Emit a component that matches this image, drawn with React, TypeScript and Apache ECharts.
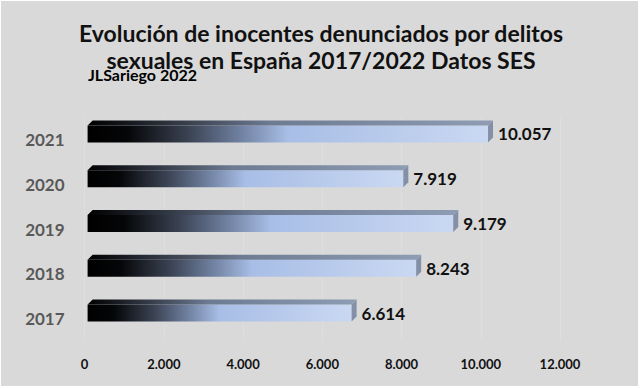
import React, { useEffect, useRef } from "react";
import * as echarts from "echarts";

const categories = ["2017", "2018", "2019", "2020", "2021"];
const values = [6614, 8243, 9179, 7919, 10057];
const xTicks = [0, 2000, 4000, 6000, 8000, 10000, 12000];
const titleLines = ["Evolución de inocentes denunciados por delitos", "sexuales en España 2017/2022 Datos SES"];
const author = "JLSariego 2022";

const fmtDot = (v: number) => String(v).replace(/\B(?=(\d{3})+(?!\d))/g, ".");

export default function App() {
  const ref = useRef<HTMLDivElement>(null);
  useEffect(() => {
    if (!ref.current) return;
    const chart = echarts.init(ref.current, undefined, { renderer: "svg" });
    const D = 5;
    const frontGrad = () =>
      new echarts.graphic.LinearGradient(0, 0, 1, 0, [
        { offset: 0, color: "#000000" },
        { offset: 0.1, color: "#050608" },
        { offset: 0.25, color: "#3a4252" },
        { offset: 0.38, color: "#6f80a0" },
        { offset: 0.5, color: "#a8bee6" },
        { offset: 1, color: "#cad8f2" },
      ]);
    const topGrad = () =>
      new echarts.graphic.LinearGradient(0, 0, 1, 0, [
        { offset: 0, color: "#000000" },
        { offset: 0.12, color: "#1a1d24" },
        { offset: 0.45, color: "#6c7a92" },
        { offset: 1, color: "#8e9cb4" },
      ]);
    chart.setOption({
      animation: false,
      backgroundColor: "#ffffff",
      graphic: [
        { type: "rect", z: -10, shape: { x: 1, y: 1, width: 637, height: 385 }, style: { fill: "#d9d9d9" } },
        {
          type: "text",
          left: 88,
          top: 66,
          z: 10,
          style: { text: author, font: "bold 16px Lato", fill: "#000000" },
        },
      ],
      title: {
        text: titleLines.join("\n"),
        left: "center",
        top: 14,
        textStyle: { fontFamily: "Lato", fontWeight: "bold", fontSize: 23, lineHeight: 27, color: "#111111" },
      },
      grid: { left: 84.6, right: 82, top: 117, bottom: 48 },
      xAxis: {
        type: "value",
        min: xTicks[0],
        max: xTicks[xTicks.length - 1],
        interval: 2000,
        axisLine: { show: false },
        axisTick: { show: false },
        splitLine: { show: true, lineStyle: { color: "#dedede", width: 1 } },
        axisLabel: {
          margin: 16,
          formatter: (v: number) => fmtDot(v),
          fontFamily: "Lato",
          fontWeight: "bold",
          fontSize: 13,
          color: "#111111",
        },
      },
      yAxis: {
        type: "category",
        data: categories,
        axisLine: { show: false },
        axisTick: { show: false },
        axisLabel: {
          margin: 20,
          fontFamily: "Lato",
          fontWeight: "bold",
          fontSize: 17,
          color: "#595959",
        },
      },
      series: [
        {
          type: "custom",
          data: values.map((v, i) => [v, i]),
          renderItem: (params: any, api: any) => {
            const v = api.value(0);
            const c = api.value(1);
            const p0 = api.coord([0, c]);
            const p1 = api.coord([v, c]);
            const x0 = p0[0] + 3;
            const x1 = p1[0] + 5;
            const yt = p0[1] - 14;
            const yb = p0[1] + 3;
            return {
              type: "group",
              children: [
                {
                  type: "rect",
                  shape: { x: x0, y: yt, width: x1 - x0, height: yb - yt },
                  style: { fill: frontGrad() },
                },
                {
                  type: "polygon",
                  shape: { points: [[x0, yt], [x0 + D, yt - D], [x1 + D, yt - D], [x1, yt]] },
                  style: { fill: topGrad() },
                },
                {
                  type: "polygon",
                  shape: { points: [[x1, yt], [x1 + D, yt - D], [x1 + D, yb - D], [x1, yb]] },
                  style: { fill: "#8390a8" },
                },
                {
                  type: "text",
                  style: {
                    x: x1 + D + 5,
                    y: (yt + yb) / 2,
                    text: fmtDot(v),
                    font: "bold 17px Lato",
                    fill: "#111111",
                    verticalAlign: "middle",
                    align: "left",
                  },
                },
              ],
            };
          },
        },
      ],
    });
    return () => chart.dispose();
  }, []);
  return (
    <div style={{ position: "absolute", left: 0, top: 0 }}>
      <div ref={ref} style={{ width: 642, height: 389 }} />
    </div>
  );
}
